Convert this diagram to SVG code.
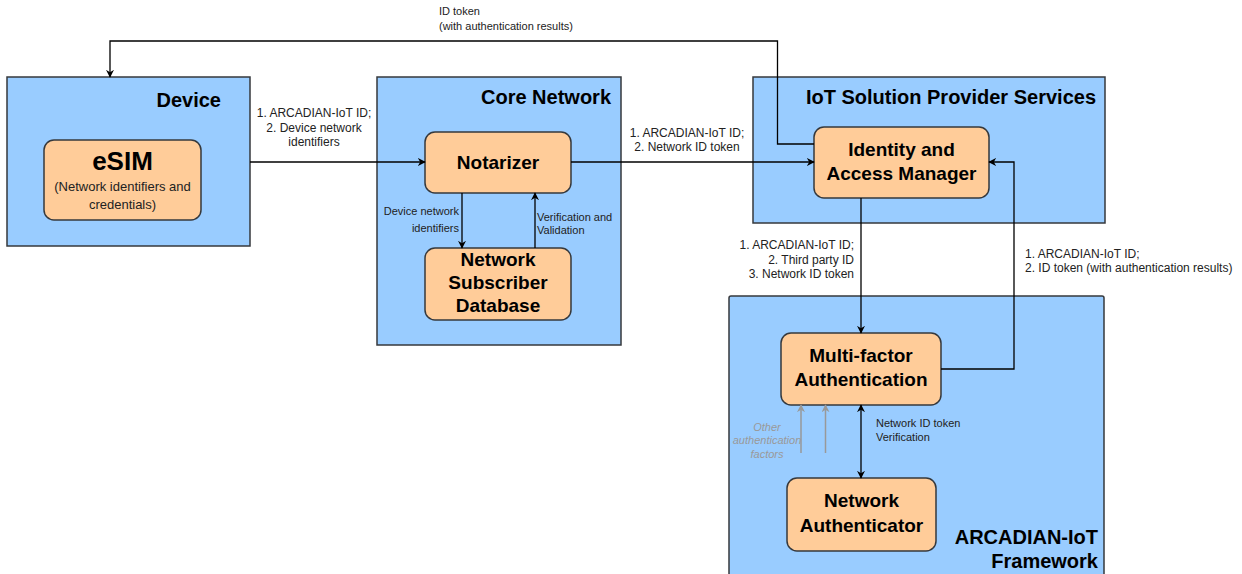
<svg xmlns="http://www.w3.org/2000/svg" width="1242" height="574" viewBox="0 0 1242 574">
<style>
.grp{fill:#99CCFF;stroke:#36393d;stroke-width:1.5}
.node{fill:#FFCC99;stroke:#36393d;stroke-width:1.5}
.t{font-family:"Liberation Sans",Arial,sans-serif;fill:#000}
.gt{font-size:20px;font-weight:bold;text-anchor:end}
.nt{font-size:19px;font-weight:bold;text-anchor:middle}
.lb{font-size:12px;fill:#222}
.sm{font-size:11px;fill:#222}
.sub{font-size:13px;fill:#222;text-anchor:middle}
.oth{font-size:11px;font-style:italic;fill:#999;text-anchor:middle}
.edge{fill:none;stroke:#000;stroke-width:1.3}
.grey{fill:none;stroke:#999;stroke-width:1.5}
</style>
<defs>
<marker id="ah" viewBox="0 0 10 10" refX="9" refY="5" markerWidth="8" markerHeight="8" markerUnits="userSpaceOnUse" orient="auto-start-reverse">
<path d="M0,0 L10,5 L0,10 L3,5 z" fill="#000"/>
</marker>
<marker id="ahg" viewBox="0 0 10 10" refX="9" refY="5" markerWidth="8" markerHeight="8" markerUnits="userSpaceOnUse" orient="auto">
<path d="M0,0 L10,5 L0,10 L3,5 z" fill="#999"/>
</marker>
</defs>

<g id="device">
<rect class="grp" x="7" y="77" width="243" height="169"/>
<text class="t gt" x="221" y="107">Device</text>
</g>
<g id="core-network">
<rect class="grp" x="377" y="77" width="244" height="268"/>
<text class="t gt" x="611" y="104">Core Network</text>
</g>
<g id="iot-sps">
<rect class="grp" x="753" y="77" width="352" height="146"/>
<text class="t gt" x="1096" y="104">IoT Solution Provider Services</text>
</g>
<g id="arcadian-framework">
<rect class="grp" x="729" y="296" width="375" height="290" rx="2"/>
<text class="t gt" x="1098" y="544">ARCADIAN-IoT</text>
<text class="t gt" x="1098" y="568">Framework</text>
</g>

<g id="esim">
<rect class="node" x="44" y="140" width="157" height="80" rx="10"/>
<text class="t" x="122.5" y="170" font-size="26" font-weight="bold" text-anchor="middle">eSIM</text>
<text class="t sub" x="122.5" y="191">(Network identifiers and</text>
<text class="t sub" x="122.5" y="209">credentials)</text>
</g>
<g id="notarizer">
<rect class="node" x="425" y="132" width="146" height="61" rx="10"/>
<text class="t nt" x="498" y="169">Notarizer</text>
</g>
<g id="nsd">
<rect class="node" x="425" y="248" width="146" height="72" rx="10"/>
<text class="t nt" x="498" y="266">Network</text>
<text class="t nt" x="498" y="289">Subscriber</text>
<text class="t nt" x="498" y="312">Database</text>
</g>
<g id="iam">
<rect class="node" x="814" y="127" width="175" height="71" rx="10"/>
<text class="t nt" x="901.5" y="156">Identity and</text>
<text class="t nt" x="901.5" y="180">Access Manager</text>
</g>
<g id="mfa">
<rect class="node" x="781" y="333" width="160" height="72" rx="10"/>
<text class="t nt" x="861" y="362">Multi-factor</text>
<text class="t nt" x="861" y="386">Authentication</text>
</g>
<g id="network-authenticator">
<rect class="node" x="787" y="478" width="149" height="73" rx="10"/>
<text class="t nt" x="861.5" y="507">Network</text>
<text class="t nt" x="861.5" y="532">Authenticator</text>
</g>

<g id="connectors">
<path class="edge" d="M814,144 H777.5 V41 H110 V77" marker-end="url(#ah)"/>
<text class="t sm" x="439" y="15">ID token</text>
<text class="t sm" x="439" y="30">(with authentication results)</text>

<path class="edge" d="M250,162 H425" marker-end="url(#ah)"/>
<text class="t lb" x="314" y="117" text-anchor="middle">1. ARCADIAN-IoT ID;</text>
<text class="t lb" x="314" y="132" text-anchor="middle">2. Device network</text>
<text class="t lb" x="314" y="146" text-anchor="middle">identifiers</text>

<path class="edge" d="M462,193 V248" marker-end="url(#ah)"/>
<text class="t sm" x="459" y="215" text-anchor="end">Device network</text>
<text class="t sm" x="459" y="232" text-anchor="end">identifiers</text>

<path class="edge" d="M535,248 V193" marker-end="url(#ah)"/>
<text class="t sm" x="537" y="221">Verification and</text>
<text class="t sm" x="537" y="234">Validation</text>

<path class="edge" d="M571,162 H814" marker-end="url(#ah)"/>
<text class="t lb" x="687" y="137" text-anchor="middle">1. ARCADIAN-IoT ID;</text>
<text class="t lb" x="687" y="151" text-anchor="middle">2. Network ID token</text>

<path class="edge" d="M861,198 V333" marker-end="url(#ah)"/>
<text class="t lb" x="854" y="249" text-anchor="end">1. ARCADIAN-IoT ID;</text>
<text class="t lb" x="854" y="264" text-anchor="end">2. Third party ID</text>
<text class="t lb" x="854" y="278" text-anchor="end">3. Network ID token</text>

<path class="edge" d="M941,369 H1014 V162 H989" marker-end="url(#ah)"/>
<text class="t lb" x="1025" y="258">1. ARCADIAN-IoT ID;</text>
<text class="t lb" x="1025" y="272">2. ID token (with authentication results)</text>

<path class="edge" d="M861,405 V478" marker-start="url(#ah)" marker-end="url(#ah)"/>
<text class="t sm" x="876" y="427">Network ID token</text>
<text class="t sm" x="876" y="441">Verification</text>

<path class="grey" d="M801,453 V405" marker-end="url(#ahg)"/>
<path class="grey" d="M825.5,453 V405" marker-end="url(#ahg)"/>
<text class="t oth" x="767" y="431">Other</text>
<text class="t oth" x="767" y="444">authentication</text>
<text class="t oth" x="767" y="458">factors</text>
</g>
</svg>
